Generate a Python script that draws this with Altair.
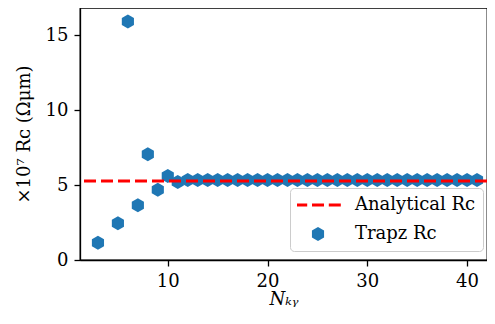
import altair as alt
import pandas as pd

# ---- data ----
n_ky = [3, 5, 6, 7, 8, 9, 10, 11, 12, 13, 14, 15, 16, 17, 18, 19, 20, 21, 22,
        23, 24, 25, 26, 27, 28, 29, 30, 31, 32, 33, 34, 35, 36, 37, 38, 39, 40, 41]
trapz_rc = [1.15, 2.45, 15.9, 3.65, 7.05, 4.68, 5.6, 5.2, 5.34, 5.34, 5.34, 5.34,
            5.34, 5.34, 5.34, 5.34, 5.34, 5.34, 5.34, 5.34, 5.34, 5.34, 5.34, 5.34,
            5.34, 5.34, 5.34, 5.34, 5.34, 5.34, 5.34, 5.34, 5.34, 5.34, 5.34, 5.34,
            5.34, 5.34]
analytical_rc = [5.26]
series = ["Analytical Rc", "Trapz Rc"]
colors = ["#ff0000", "#1f77b4"]
x_ticks = [10, 20, 30, 40]
y_ticks = [0, 5, 10, 15]

# symbol paths (size 1764 -> path unit = 21 px)
hexagon = "M0,-0.333L0.289,-0.167L0.289,0.167L0,0.333L-0.289,0.167L-0.289,-0.167Z"
dash = ("M-1.086,-0.07H-0.514V0.07H-1.086Z "
        "M-0.286,-0.07H0.286V0.07H-0.286Z "
        "M0.514,-0.07H1.086V0.07H0.514Z")

FONT = "DejaVu Serif"

df = pd.DataFrame({"N": n_ky, "Rc": trapz_rc, "series": ["Trapz Rc"] * len(n_ky)})
df_line = pd.DataFrame({"Rc": analytical_rc})

x_enc = alt.X("N:Q",
              scale=alt.Scale(domain=[1.2, 42.0], nice=False, zero=False),
              axis=alt.Axis(values=x_ticks, title="Nₖᵧ", titleFontStyle="italic",
                            titlePadding=0))
y_enc = alt.Y("Rc:Q",
              scale=alt.Scale(domain=[0, 16.8], nice=False),
              axis=alt.Axis(values=y_ticks, title="×10⁷ Rᴄ (Ωμm)", titlePadding=12))

legend = alt.Legend(
    title=None, orient="none", legendX=210, legendY=180,
    padding=7, labelOffset=16, rowPadding=9, clipHeight=20,
    symbolSize=1764, symbolStrokeWidth=0,
    labelFont=FONT, labelFontSize=18, labelColor="black",
    strokeColor="#cccccc", cornerRadius=4, fillColor="rgba(255,255,255,0.8)",
)

points = alt.Chart(df).mark_point(filled=True, size=1764, opacity=1, strokeWidth=0).encode(
    x=x_enc,
    y=y_enc,
    color=alt.Color("series:N", scale=alt.Scale(domain=series, range=colors), legend=legend),
    shape=alt.Shape("series:N", scale=alt.Scale(domain=series, range=[dash, hexagon]), legend=legend),
)

rule = alt.Chart(df_line).mark_rule(color="#ff0000", strokeDash=[12, 5], strokeWidth=3).encode(
    y=y_enc,
)

chart = alt.layer(points, rule).properties(
    width=407, height=252,
    autosize=alt.AutoSizeParams(type="none"),
    padding={"left": 72, "top": 0, "right": 0, "bottom": 48},
).configure_view(
    stroke="black", strokeWidth=1.3,
).configure_axis(
    grid=False,
    domainColor="black", domainWidth=1.3,
    tickColor="black", tickWidth=1.3, tickSize=6,
    labelFont=FONT, labelFontSize=18, labelColor="black", labelPadding=6,
    titleFont=FONT, titleFontSize=18, titleFontWeight="normal", titleColor="black",
)

chart.save("out.html", embed_options={"renderer": "svg", "actions": False})
